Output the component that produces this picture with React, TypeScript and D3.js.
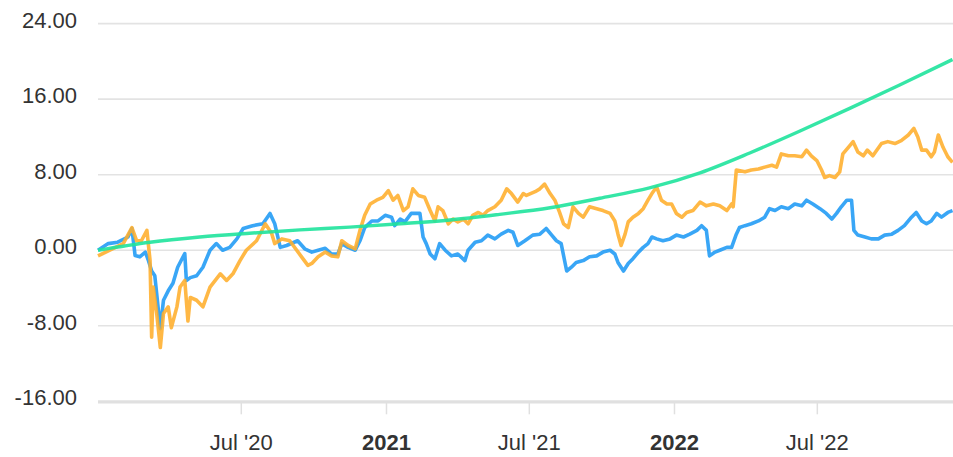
import * as d3 from "d3";
import { useEffect, useRef } from "react";

const width = 953;
const height = 457;

const yTicks = [-16, -8, 0, 8, 16, 24];
const xTicks = ["2020-07-01", "2021-01-01", "2021-07-01", "2022-01-01", "2022-07-01"];
const xTickLabels = ["Jul '20", "2021", "Jul '21", "2022", "Jul '22"];
const boldTicks = ["2021", "2022"];

// blue series
const blueSeries: [string, number][] = [
  ["2020-01-02", 0.0], ["2020-01-15", 0.7], ["2020-01-27", 0.85], ["2020-02-09", 1.4],
  ["2020-02-14", 2.3], ["2020-02-18", -0.56], ["2020-02-24", -0.7], ["2020-03-02", -0.2],
  ["2020-03-06", -1.1], ["2020-03-10", -2.2], ["2020-03-14", -2.7], ["2020-03-21", -8.3],
  ["2020-03-25", -5.3], ["2020-03-31", -4.3], ["2020-04-06", -3.5], ["2020-04-12", -1.8],
  ["2020-04-21", -0.35], ["2020-04-23", -3.2], ["2020-04-28", -2.9], ["2020-05-06", -2.7],
  ["2020-05-14", -1.8], ["2020-05-23", 0], ["2020-05-31", 0.7], ["2020-06-08", 0],
  ["2020-06-17", 0.3], ["2020-06-26", 1.2], ["2020-07-04", 2.3], ["2020-07-16", 2.6],
  ["2020-07-29", 2.8], ["2020-08-07", 3.9], ["2020-08-13", 2.8], ["2020-08-20", 0.3],
  ["2020-08-28", 0.5], ["2020-09-11", 1.0], ["2020-09-20", 0.15], ["2020-09-29", -0.2],
  ["2020-10-07", 0], ["2020-10-16", 0.2], ["2020-10-24", -0.4], ["2020-11-01", -0.4],
  ["2020-11-06", 0.7], ["2020-11-14", 0.3], ["2020-11-23", 0], ["2020-11-29", 1.0],
  ["2020-12-05", 2.4], ["2020-12-14", 3.1], ["2020-12-22", 3.1], ["2020-12-31", 3.7],
  ["2021-01-08", 3.5], ["2021-01-12", 2.6], ["2021-01-19", 3.3], ["2021-01-25", 3.0],
  ["2021-02-02", 3.9], ["2021-02-13", 3.9], ["2021-02-17", 1.4], ["2021-02-21", 0.7],
  ["2021-02-26", -0.4], ["2021-03-04", -0.9], ["2021-03-10", 0.7], ["2021-03-17", 0],
  ["2021-03-25", -0.6], ["2021-04-02", -0.4], ["2021-04-11", -1.1], ["2021-04-15", 0],
  ["2021-04-24", 0.85], ["2021-05-02", 1.0], ["2021-05-10", 1.6], ["2021-05-19", 1.2],
  ["2021-05-27", 1.7], ["2021-06-05", 2.1], ["2021-06-11", 1.9], ["2021-06-17", 0.5],
  ["2021-06-26", 1.0], ["2021-07-06", 1.6], ["2021-07-15", 1.7], ["2021-07-23", 2.3],
  ["2021-07-30", 1.6], ["2021-08-05", 1.0], ["2021-08-11", 0.7], ["2021-08-18", -2.2],
  ["2021-08-24", -1.8], ["2021-08-30", -1.3], ["2021-09-08", -1.1], ["2021-09-16", -0.7],
  ["2021-09-25", -0.6], ["2021-10-03", -0.2], ["2021-10-12", 0], ["2021-10-18", -0.4],
  ["2021-10-22", -1.3], ["2021-10-29", -2.2], ["2021-11-04", -1.4], ["2021-11-10", -0.9],
  ["2021-11-17", -0.2], ["2021-11-23", 0.3], ["2021-11-29", 0.7], ["2021-12-04", 1.4],
  ["2021-12-10", 1.2], ["2021-12-18", 1.0], ["2021-12-27", 1.2], ["2022-01-04", 1.6],
  ["2022-01-13", 1.4], ["2022-01-21", 1.7], ["2022-01-30", 2.1], ["2022-02-05", 2.6],
  ["2022-02-11", 2.1], ["2022-02-15", -0.6], ["2022-02-22", -0.2], ["2022-02-28", 0],
  ["2022-03-09", 0.3], ["2022-03-15", 0.3], ["2022-03-21", 1.7], ["2022-03-25", 2.4],
  ["2022-04-01", 2.6], ["2022-04-09", 2.8], ["2022-04-18", 3.1], ["2022-04-26", 3.5],
  ["2022-05-02", 4.4], ["2022-05-09", 4.2], ["2022-05-17", 4.6], ["2022-05-26", 4.4],
  ["2022-06-03", 4.9], ["2022-06-12", 4.7], ["2022-06-18", 5.3], ["2022-06-26", 4.9],
  ["2022-07-05", 4.4], ["2022-07-13", 3.9], ["2022-07-20", 3.3], ["2022-07-26", 3.9],
  ["2022-08-01", 4.6], ["2022-08-08", 5.3], ["2022-08-14", 5.3], ["2022-08-17", 2.1],
  ["2022-08-22", 1.6], ["2022-08-31", 1.4], ["2022-09-08", 1.2], ["2022-09-17", 1.2],
  ["2022-09-25", 1.6], ["2022-10-04", 1.7], ["2022-10-12", 2.1], ["2022-10-20", 2.6],
  ["2022-10-29", 3.5], ["2022-11-04", 4.0], ["2022-11-11", 3.1], ["2022-11-17", 2.8],
  ["2022-11-23", 3.1], ["2022-11-30", 3.9], ["2022-12-06", 3.5], ["2022-12-14", 4.0],
  ["2022-12-20", 4.2],
];

// orange series
const orangeSeries: [string, number][] = [
  ["2020-01-02", -0.6], ["2020-01-17", 0], ["2020-02-03", 0.7], ["2020-02-14", 2.4],
  ["2020-02-20", 1.0], ["2020-02-26", 1.0], ["2020-03-04", 2.1], ["2020-03-08", -1.1],
  ["2020-03-10", -9.2], ["2020-03-12", -3.9], ["2020-03-16", -6.4], ["2020-03-21", -10.3],
  ["2020-03-25", -6.7], ["2020-03-31", -6.0], ["2020-04-04", -8.2], ["2020-04-11", -6.0],
  ["2020-04-15", -3.9], ["2020-04-21", -3.2], ["2020-04-25", -7.5], ["2020-04-28", -5.0],
  ["2020-05-06", -5.3], ["2020-05-14", -6.0], ["2020-05-23", -3.9], ["2020-06-05", -2.5],
  ["2020-06-13", -3.2], ["2020-06-21", -2.5], ["2020-06-30", -1.1], ["2020-07-08", 0],
  ["2020-07-21", 1.0], ["2020-08-01", 2.8], ["2020-08-09", 1.8], ["2020-08-13", 0.7],
  ["2020-08-22", 1.2], ["2020-09-01", 1.0], ["2020-09-16", -0.7], ["2020-09-24", -1.6],
  ["2020-09-29", -1.4], ["2020-10-07", -0.7], ["2020-10-16", -0.2], ["2020-10-24", -0.6],
  ["2020-11-01", -0.7], ["2020-11-06", 1.0], ["2020-11-14", 0.5], ["2020-11-23", 0.15],
  ["2020-11-29", 2.1], ["2020-12-05", 3.7], ["2020-12-12", 4.9], ["2020-12-20", 5.3],
  ["2020-12-28", 5.6], ["2021-01-04", 6.3], ["2021-01-10", 5.3], ["2021-01-16", 5.8],
  ["2021-01-23", 4.2], ["2021-01-29", 4.6], ["2021-02-04", 6.5], ["2021-02-11", 5.8],
  ["2021-02-19", 5.6], ["2021-02-26", 4.2], ["2021-03-04", 3.1], ["2021-03-08", 4.6],
  ["2021-03-14", 4.2], ["2021-03-21", 2.8], ["2021-03-27", 3.3], ["2021-04-02", 3.0],
  ["2021-04-09", 3.3], ["2021-04-15", 2.8], ["2021-04-21", 3.7], ["2021-04-28", 4.0],
  ["2021-05-04", 3.7], ["2021-05-10", 4.2], ["2021-05-19", 4.6], ["2021-05-27", 5.3],
  ["2021-06-03", 6.5], ["2021-06-09", 6.0], ["2021-06-17", 5.1], ["2021-06-24", 6.0],
  ["2021-06-28", 5.8], ["2021-07-09", 6.2], ["2021-07-15", 6.5], ["2021-07-21", 7.0],
  ["2021-07-28", 6.0], ["2021-08-03", 5.3], ["2021-08-09", 4.0], ["2021-08-14", 2.8],
  ["2021-08-20", 2.4], ["2021-08-26", 4.6], ["2021-09-02", 3.9], ["2021-09-08", 3.5],
  ["2021-09-16", 4.6], ["2021-09-25", 4.4], ["2021-10-03", 4.2], ["2021-10-12", 3.9],
  ["2021-10-18", 3.1], ["2021-10-22", 1.7], ["2021-10-26", 0.5], ["2021-10-31", 1.7],
  ["2021-11-04", 3.0], ["2021-11-10", 3.5], ["2021-11-17", 3.9], ["2021-11-23", 4.4],
  ["2021-11-29", 5.3], ["2021-12-04", 6.0], ["2021-12-10", 6.7], ["2021-12-16", 5.3],
  ["2021-12-23", 4.9], ["2021-12-29", 4.9], ["2022-01-04", 3.9], ["2022-01-11", 3.5],
  ["2022-01-17", 4.0], ["2022-01-25", 4.2], ["2022-02-03", 5.1], ["2022-02-11", 4.7],
  ["2022-02-20", 4.9], ["2022-02-28", 4.7], ["2022-03-09", 4.2], ["2022-03-15", 4.9],
  ["2022-03-17", 4.6], ["2022-03-21", 8.5], ["2022-04-01", 8.3], ["2022-04-09", 8.5],
  ["2022-04-18", 8.6], ["2022-04-26", 8.8], ["2022-05-05", 9.0], ["2022-05-11", 8.8],
  ["2022-05-17", 10.2], ["2022-05-26", 10.0], ["2022-06-03", 10.0], ["2022-06-12", 9.9],
  ["2022-06-18", 10.6], ["2022-06-24", 10.0], ["2022-07-01", 9.5], ["2022-07-07", 8.5],
  ["2022-07-11", 7.7], ["2022-07-17", 7.9], ["2022-07-24", 7.7], ["2022-07-30", 8.3],
  ["2022-08-03", 10.2], ["2022-08-10", 10.9], ["2022-08-16", 11.5], ["2022-08-22", 10.4],
  ["2022-08-29", 10.0], ["2022-09-03", 10.6], ["2022-09-10", 10.0], ["2022-09-21", 11.3],
  ["2022-09-29", 11.5], ["2022-10-08", 11.3], ["2022-10-16", 11.6], ["2022-10-25", 12.2],
  ["2022-11-01", 12.9], ["2022-11-06", 12.0], ["2022-11-11", 10.6], ["2022-11-17", 10.6],
  ["2022-11-23", 9.9], ["2022-11-27", 10.4], ["2022-12-02", 12.2], ["2022-12-08", 10.9],
  ["2022-12-14", 9.9], ["2022-12-20", 9.3],
];

// green series (smooth)
const greenSeries: [string, number][] = [
  ["2020-01-02", 0], ["2020-03-08", 0.85], ["2020-05-10", 1.4], ["2020-07-12", 1.8],
  ["2020-09-14", 2.15], ["2020-11-16", 2.45], ["2021-01-19", 2.8], ["2021-03-23", 3.2],
  ["2021-05-25", 3.8], ["2021-07-28", 4.5], ["2021-09-29", 5.5], ["2021-12-01", 6.6],
  ["2022-02-03", 8.2], ["2022-04-07", 10.3], ["2022-06-09", 12.6], ["2022-08-11", 15.0],
  ["2022-10-14", 17.5], ["2022-12-20", 20.2],
];

const seriesColors = ["#1e9af5", "#ffae2b", "#1fe39c"];

export default function App() {
  const ref = useRef(null);

  useEffect(() => {
    draw();
  });

  function draw() {
    const svg = d3.select(ref.current);
    // clean the slate
    svg.selectAll("*").remove();

    const parse = d3.utcParse("%Y-%m-%d");
    const font = "'Liberation Sans', Arial, Helvetica, sans-serif";

    const x = d3
      .scaleUtc()
      .domain([parse("2020-01-01"), parse("2023-01-01")])
      .range([97.2, 962]);
    const y = d3.scaleLinear().domain([-16, 24]).range([401.3, 23.6]);

    // horizontal grid lines
    svg
      .append("g")
      .selectAll("line")
      .data(yTicks)
      .enter()
      .append("line")
      .attr("x1", 98)
      .attr("x2", width)
      .attr("y1", (d) => y(d))
      .attr("y2", (d) => y(d))
      .attr("stroke", "#e3e3e3")
      .attr("stroke-width", 1.6);

    // y labels (plain hyphen for negatives)
    svg
      .append("g")
      .selectAll("text")
      .data(yTicks)
      .enter()
      .append("text")
      .attr("x", 77)
      .attr("y", (d) => y(d) + 4)
      .attr("text-anchor", "end")
      .attr("font-family", font)
      .attr("font-size", 22)
      .attr("fill", "#333")
      .text((d) => d.toFixed(2));

    // x axis
    const xAxis = svg
      .append("g")
      .attr("transform", "translate(0," + y(-16) + ")")
      .call(
        d3
          .axisBottom(x)
          .tickValues(xTicks.map((d) => parse(d)))
          .tickSize(13)
          .tickFormat((_, i) => xTickLabels[i])
      );
    xAxis.select(".domain").remove();
    xAxis.selectAll(".tick line").attr("stroke", "#e0e0e0").attr("stroke-width", 1.5);
    xAxis
      .selectAll(".tick text")
      .attr("y", 49)
      .attr("dy", 0)
      .attr("font-family", font)
      .attr("font-size", 22)
      .attr("fill", "#333")
      .attr("font-weight", (_, i) => (boldTicks.includes(xTickLabels[i]) ? 700 : 400));

    svg
      .append("line")
      .attr("x1", 98)
      .attr("x2", width)
      .attr("y1", y(-16) + 0.7)
      .attr("y2", y(-16) + 0.7)
      .attr("stroke", "#e0e0e0")
      .attr("stroke-width", 3);

    // the lines
    const line = d3
      .line<[string, number]>()
      .x((d) => x(parse(d[0])))
      .y((d) => y(d[1]));
    const smooth = d3
      .line<[string, number]>()
      .x((d) => x(parse(d[0])))
      .y((d) => y(d[1]))
      .curve(d3.curveMonotoneX);

    [blueSeries, orangeSeries].forEach((s, i) => {
      svg
        .append("path")
        .datum(s)
        .attr("fill", "none")
        .attr("stroke", seriesColors[i])
        .attr("stroke-opacity", 0.88)
        .attr("stroke-width", 3.6)
        .attr("stroke-linejoin", "round")
        .attr("d", line);
    });

    svg
      .append("path")
      .datum(greenSeries)
      .attr("fill", "none")
      .attr("stroke", seriesColors[2])
      .attr("stroke-opacity", 0.9)
      .attr("stroke-width", 3.4)
      .attr("d", smooth);
  }

  return (
    <svg
      ref={ref}
      width={width}
      height={height}
      style={{ position: "absolute", left: 0, top: 0, background: "#fff" }}
    ></svg>
  );
}
